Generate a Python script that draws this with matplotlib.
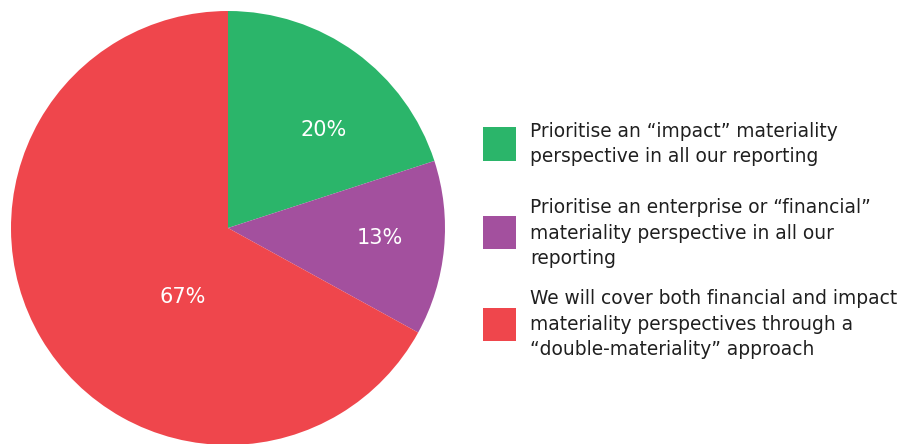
import matplotlib
matplotlib.use("Agg")
import matplotlib.pyplot as plt
from matplotlib.patches import Rectangle
import numpy as np

# datos del grafico
etiquetas = [
    "Prioritise an \u201cimpact\u201d materiality\nperspective in all our reporting",
    "Prioritise an enterprise or \u201cfinancial\u201d\nmateriality perspective in all our\nreporting",
    "We will cover both financial and impact\nmateriality perspectives through a\n\u201cdouble-materiality\u201d approach",
]
valores = [20, 13, 67]
colores = ["#2bb56a", "#a3509e", "#ef464c"]
# posicion de los porcentajes (fraccion del radio, angulo en grados)
pos_pct = [(0.63, 45.6), (0.70, -3.8), (0.38, 237.0)]

W, H = 906, 444
fig = plt.figure(figsize=(W / 100, H / 100), dpi=100)
ax = fig.add_axes([11 / W, -1 / H, 434 / W, 434 / H])

wedges, _ = ax.pie(valores, colors=colores, startangle=90, counterclock=False,
                   wedgeprops=dict(linewidth=0))
ax.set_aspect("equal")
ax.set_xlim(-1, 1)
ax.set_ylim(-1, 1)

for v, (r, ang) in zip(valores, pos_pct):
    a = np.deg2rad(ang)
    ax.text(r * np.cos(a), r * np.sin(a), f"{v}%", color="white", fontsize=15,
            ha="center", va="center")

# leyenda a mano (cuadrados + texto)
centros_y = [144, 233, 324]
for c, lab, yc in zip(colores, etiquetas, centros_y):
    fig.add_artist(Rectangle((483 / W, (H - yc - 16.5) / H), 33 / W, 33 / H,
                             transform=fig.transFigure, color=c, lw=0))
    fig.text(530 / W, (H - yc) / H, lab, fontsize=13.4, color="#1f1f1f",
             ha="left", va="center", linespacing=1.42)

plt.savefig("out.png", dpi=100)
